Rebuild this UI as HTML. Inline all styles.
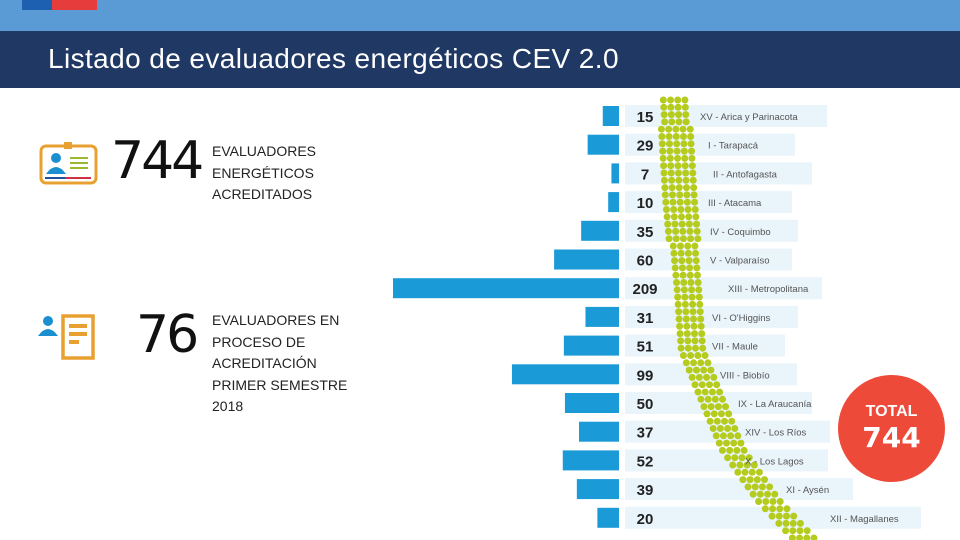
<!DOCTYPE html>
<html><head><meta charset="utf-8"><style>
body{margin:0;width:960px;height:540px;overflow:hidden;background:#fff;font-family:"Liberation Sans",sans-serif;position:relative}
.hdr{position:absolute;left:0;top:0;width:960px;height:31px;background:#5b9bd5}
.bar{position:absolute;left:0;top:31px;width:960px;height:57px;background:#203864}
.bar span{position:absolute;left:48px;top:12px;color:#fff;font-size:28px;letter-spacing:0.4px}
.big{position:absolute;font-size:52px;color:#111;font-family:"DejaVu Sans",sans-serif;letter-spacing:-3px}
.txt{position:absolute;left:212px;font-size:14px;color:#222;line-height:21.5px}
</style></head><body>
<div class="hdr">
<div style="position:absolute;left:22px;top:0;width:30px;height:10px;background:#1d5fb0"></div>
<div style="position:absolute;left:52px;top:0;width:45px;height:10px;background:#e63c3c"></div>
</div>
<div class="bar"><span>Listado de evaluadores energéticos CEV 2.0</span></div>

<svg style="position:absolute;left:38px;top:140px" width="64" height="50">
<rect x="3" y="6" width="55" height="37" rx="5" fill="none" stroke="#e8a030" stroke-width="3"/>
<rect x="26" y="2" width="8" height="7" fill="#e8a030"/>
<circle cx="18" cy="18" r="5" fill="#1a90d0"/><path d="M8 34 Q18 20 28 34Z" fill="#1a90d0"/>
<rect x="32" y="17" width="18" height="2" fill="#9ab830"/><rect x="32" y="22" width="18" height="2" fill="#9ab830"/><rect x="32" y="27" width="18" height="2" fill="#9ab830"/>
<rect x="7" y="37" width="20" height="2" fill="#2050a0"/><rect x="27" y="37" width="26" height="2" fill="#d03040"/>
</svg>
<div class="big" style="left:111px;top:131px">744</div>
<div class="txt" style="top:141px">EVALUADORES<br>ENERGÉTICOS<br>ACREDITADOS</div>

<svg style="position:absolute;left:36px;top:312px" width="64" height="50">
<circle cx="12" cy="9" r="5" fill="#1a90d0"/><path d="M2 24 Q12 10 22 24Z" fill="#1a90d0"/>
<rect x="27" y="4" width="30" height="42" fill="none" stroke="#e8a030" stroke-width="3.5"/>
<rect x="33" y="12" width="18" height="4" fill="#e8a030"/><rect x="33" y="20" width="18" height="4" fill="#e8a030"/><rect x="33" y="28" width="10" height="4" fill="#e8a030"/>
</svg>
<div class="big" style="left:136px;top:305px">76</div>
<div class="txt" style="top:310px">EVALUADORES EN<br>PROCESO DE<br>ACREDITACIÓN<br>PRIMER SEMESTRE<br>2018</div>

<svg id="chart" style="position:absolute;left:0;top:0" width="960" height="540"></svg>

<div style="position:absolute;left:838px;top:375px;width:107px;height:107px;border-radius:50%;background:#ee4a3a;color:#fff;text-align:center">
<div style="margin-top:28px;font-size:16px;font-weight:bold">TOTAL</div>
<div style="font-size:28px;font-weight:bold;font-family:'DejaVu Sans',sans-serif">744</div>
</div>

<script>
const regions=["XV - Arica y Parinacota","I - Tarapacá","II - Antofagasta","III - Atacama","IV - Coquimbo","V - Valparaíso","XIII - Metropolitana","VI - O'Higgins","VII - Maule","VIII - Biobío","IX - La Araucanía","XIV - Los Ríos","X - Los Lagos","XI - Aysén","XII - Magallanes"];
const values=[15,29,7,10,35,60,209,31,51,99,50,37,52,39,20];
const NS="http://www.w3.org/2000/svg";
const svg=document.getElementById('chart');
const x0=619, scale=226/209, yTop=116, step=28.7, bh=20;
const xs=v=>v*scale;
const ys=i=>yTop+i*step;
const boxRight=[827,795,812,792,798,792,822,798,785,797,812,830,828,853,921];
const textX=[700,708,713,708,710,710,728,712,712,720,738,745,745,786,830];
function mk(t,a){const e=document.createElementNS(NS,t);for(const k in a)e.setAttribute(k,a[k]);svg.appendChild(e);return e;}
values.forEach((v,i)=>{
 const y=ys(i);
 const bx=mk('rect',{x:625,y:y-11,width:boxRight[i]-625,height:22,fill:'#e9f4fb'});
 
 
 const r=mk('rect',{x:x0-xs(v),y:y-bh/2,width:xs(v),height:bh,fill:'#1a9ad6'});
 
 
 const t=mk('text',{x:645,y:y+6,'text-anchor':'middle','font-size':15,'font-weight':'bold',fill:'#222','font-family':'Liberation Sans Narrow, Liberation Sans, sans-serif'});
 t.textContent=values[i];
 
 
});
// decorative map dots
const spine=[[98,674],[200,680],[290,688],[350,692],[400,712],[450,733],[500,768],[540,805]];
function cx(y){for(let k=0;k<spine.length-1;k++){const a=spine[k],b=spine[k+1];if(y<=b[0]){return a[1]+(b[1]-a[1])*(y-a[0])/(b[0]-a[0]);}}return 805;}
for(let y=100;y<540;y+=7.3){const c=cx(y);const w=(y>125&&y<245)?2:1.5;for(let j=-w;j<=w+0.01;j+=1){const d=mk('circle',{cx:c+j*7.2,cy:y,r:3.5,fill:'#b5cc1e'});}}
values.forEach((v,i)=>{
 const y=ys(i);
 const t=mk('text',{x:textX[i],y:y+4,'font-size':9.5,fill:'#555'});
 t.textContent=regions[i];
 
 
});
</script>
</body></html>
